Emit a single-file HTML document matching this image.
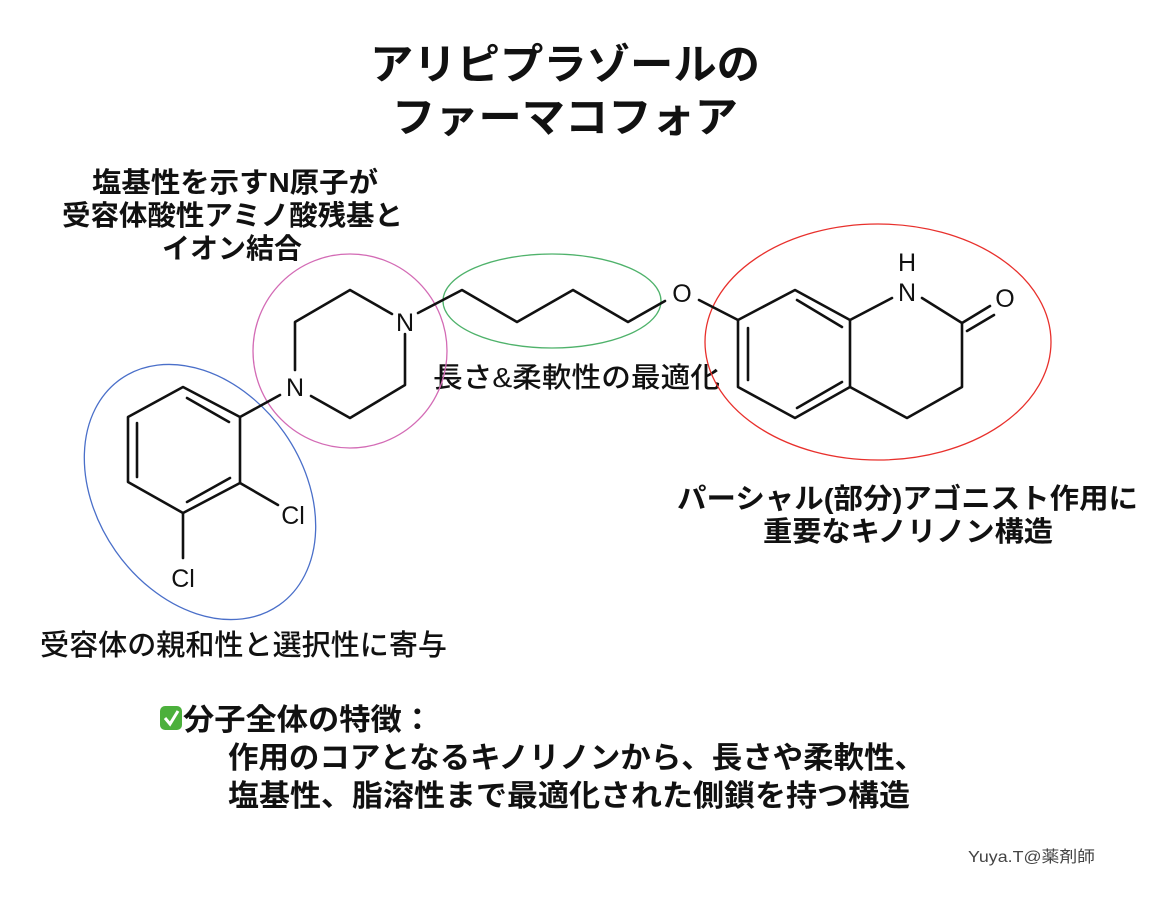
<!DOCTYPE html>
<html><head><meta charset="utf-8"><style>
html,body{margin:0;padding:0;background:#fff;}
svg{display:block;}
.t{font-family:"Liberation Sans","Noto Sans CJK JP",sans-serif;font-weight:bold;fill:#111;}
.a{font-family:"Liberation Sans",sans-serif;font-size:25px;fill:#111;}
</style></head><body>
<svg width="1163" height="902" viewBox="0 0 1163 902" xmlns="http://www.w3.org/2000/svg">
<rect width="1163" height="902" fill="#fff"/>
<text class="t" x="370" y="79" font-size="42" textLength="390" lengthAdjust="spacingAndGlyphs">アリピプラゾールの</text>
<text class="t" x="392" y="132" font-size="42" textLength="346" lengthAdjust="spacingAndGlyphs">ファーマコフォア</text>

<text class="t" x="92" y="192" font-size="28" textLength="286" lengthAdjust="spacingAndGlyphs">塩基性を示すN原子が</text>
<text class="t" x="62" y="225" font-size="28" textLength="341" lengthAdjust="spacingAndGlyphs">受容体酸性アミノ酸残基と</text>
<text class="t" x="162" y="258" font-size="28" textLength="140" lengthAdjust="spacingAndGlyphs">イオン結合</text>

<text class="t" x="433" y="387" font-size="28" textLength="287" lengthAdjust="spacingAndGlyphs" style="font-weight:500">長さ&amp;柔軟性の最適化</text>
<text class="t" x="677" y="508" font-size="28" textLength="461" lengthAdjust="spacingAndGlyphs">パーシャル(部分)アゴニスト作用に</text>
<text class="t" x="763" y="541" font-size="28" textLength="290" lengthAdjust="spacingAndGlyphs">重要なキノリノン構造</text>
<text class="t" x="40" y="655" font-size="29" textLength="407" lengthAdjust="spacingAndGlyphs" style="font-weight:500">受容体の親和性と選択性に寄与</text>

<rect x="160" y="706" width="22" height="24" rx="5" fill="#4cb03c"/>
<path d="M165 718 l5 6 l8 -13" stroke="#fff" stroke-width="3" fill="none"/>
<text class="t" x="183" y="730" font-size="30" textLength="250" lengthAdjust="spacingAndGlyphs">分子全体の特徴：</text>
<text class="t" x="228" y="768" font-size="30" textLength="697" lengthAdjust="spacingAndGlyphs">作用のコアとなるキノリノンから、長さや柔軟性、</text>
<text class="t" x="228" y="806" font-size="30" textLength="682" lengthAdjust="spacingAndGlyphs">塩基性、脂溶性まで最適化された側鎖を持つ構造</text>

<text x="968" y="862" font-size="16" textLength="127" lengthAdjust="spacingAndGlyphs" fill="#444" font-family="'Liberation Sans','Noto Sans CJK JP',sans-serif">Yuya.T@薬剤師</text>

<ellipse cx="200" cy="492" rx="138" ry="103" transform="rotate(55 200 492)" fill="none" stroke="#4a6fc9" stroke-width="1.3"/>
<circle cx="350" cy="351" r="97" fill="none" stroke="#d36bb5" stroke-width="1.3"/>
<ellipse cx="552" cy="301" rx="109" ry="47" fill="none" stroke="#4fb26b" stroke-width="1.3"/>
<ellipse cx="878" cy="342" rx="173" ry="118" fill="none" stroke="#e8302c" stroke-width="1.3"/>

<g stroke="#111" stroke-width="2.6" fill="none" stroke-linecap="round" stroke-linejoin="round">
<polygon points="183,387 240,417 240,483 183,513 128,482 128,417"/>
<line x1="137" y1="423" x2="137" y2="477"/>
<line x1="187" y1="398" x2="229" y2="422"/>
<line x1="187" y1="502" x2="230" y2="478"/>
<line x1="240" y1="483" x2="278" y2="505"/>
<line x1="183" y1="513" x2="183" y2="558"/>
<line x1="240" y1="417" x2="280" y2="395"/>
<polyline points="295,370 295,322 350,290 392,314"/>
<polyline points="405,334 405,385 350,418 311,396"/>
<polyline points="418,313 462,290 517,322 573,290 628,322 665,301"/>
<line x1="699" y1="300" x2="738" y2="320"/>
<polygon points="738,320 795,290 850,320 850,387 795,418 738,387"/>
<line x1="797" y1="300" x2="842" y2="327"/>
<line x1="748" y1="328" x2="748" y2="380"/>
<line x1="797" y1="408" x2="842" y2="382"/>
<line x1="850" y1="320" x2="892" y2="298"/>
<polyline points="922,298 962,323 962,387 907,418 850,387"/>
<line x1="962" y1="323" x2="990" y2="306"/>
<line x1="967" y1="331" x2="994" y2="315"/>
</g>
<text class="a" x="405" y="331" text-anchor="middle" font-size="27">N</text>
<text class="a" x="295" y="396" text-anchor="middle" font-size="27">N</text>
<text class="a" x="293" y="524" text-anchor="middle" font-size="27">Cl</text>
<text class="a" x="183" y="587" text-anchor="middle" font-size="27">Cl</text>
<text class="a" x="682" y="302" text-anchor="middle" font-size="27">O</text>
<text class="a" x="907" y="301" text-anchor="middle" font-size="27">N</text>
<text class="a" x="907" y="271" text-anchor="middle" font-size="27">H</text>
<text class="a" x="1005" y="307" text-anchor="middle" font-size="27">O</text>
</svg>
</body></html>
